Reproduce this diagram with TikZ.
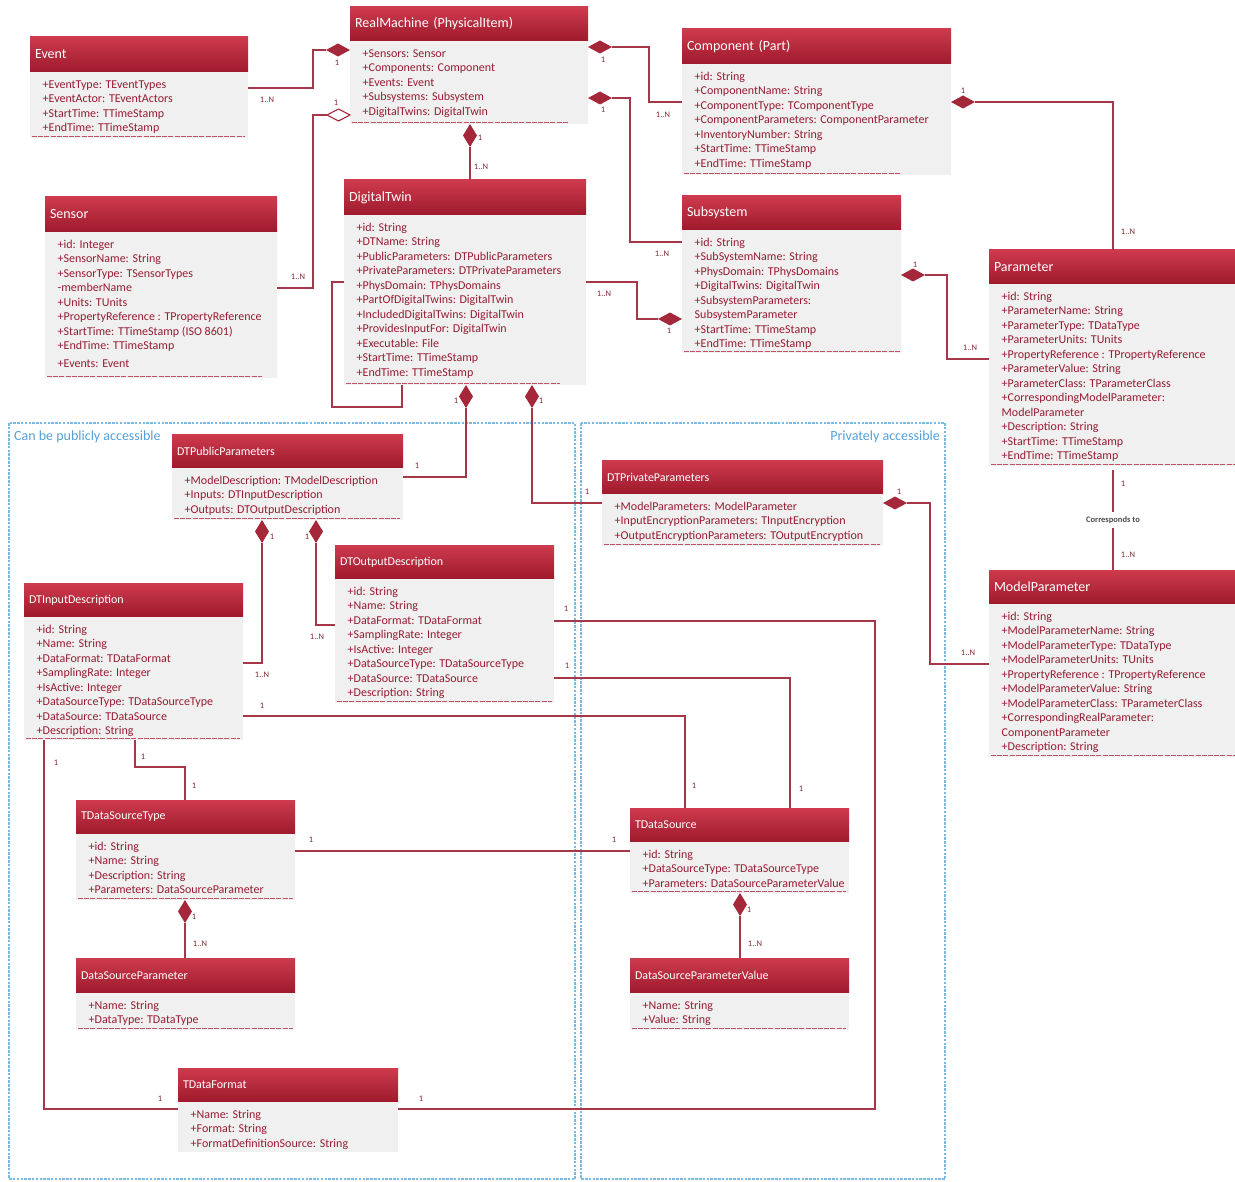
\documentclass[tikz,border=0pt]{standalone}
\usepackage{fontspec}
\setmainfont{Carlito}
\usetikzlibrary{shapes.geometric}
\definecolor{hdtop}{RGB}{206,58,78}
\definecolor{hdbot}{RGB}{158,26,44}
\definecolor{bodyc}{RGB}{240,240,240}
\definecolor{attrc}{RGB}{150,28,50}
\definecolor{linec}{RGB}{165,55,72}
\definecolor{diac}{RGB}{165,40,58}
\definecolor{multc}{RGB}{130,40,50}
\definecolor{regc}{RGB}{120,185,228}
\definecolor{regt}{RGB}{85,160,215}
\definecolor{sepc}{RGB}{195,80,100}
\tikzset{
 hdr/.style={top color=hdtop, bottom color=hdbot, draw=none, text=white, inner xsep=5pt, inner ysep=0pt, align=left, font=\fontsize{14}{16}\selectfont, outer sep=0pt},
 hdrs/.style={font=\fontsize{12}{14}\selectfont},
 hdrn/.style={},
 bodyb/.style={fill=bodyc, draw=none, inner sep=0pt, outer sep=0pt},
 attr/.style={font=\fontsize{12}{14.5}\selectfont, text=attrc, align=left, inner sep=0pt},
 sepl/.style={draw=sepc, line width=0.8pt, dash pattern=on 5pt off 1.2pt},
 conn/.style={draw=linec, line width=1.2pt},
 fdh/.style={diamond, fill=diac, draw=none, minimum width=24pt, minimum height=13pt, inner sep=0pt, outer sep=0pt},
 fdv/.style={diamond, fill=diac, draw=none, minimum width=14pt, minimum height=23pt, inner sep=0pt, outer sep=0pt},
 odh/.style={diamond, fill=white, draw=diac, line width=1.1pt, minimum width=23pt, minimum height=12pt, inner sep=0pt, outer sep=0pt},
 mult/.style={font=\fontsize{8.5}{10}\selectfont, text=multc, inner sep=0pt},
 corr/.style={font=\bfseries\fontsize{8.5}{10}\selectfont, text=black!70, fill=white, inner xsep=2pt, inner ysep=4pt},
 region/.style={draw=regc, line width=1.8pt, dash pattern=on 2.5pt off 1.3pt},
 regl/.style={font=\fontsize{14}{16}\selectfont, text=regt, inner sep=0pt},
}
% #1 name, #2 x1, #3 x2, #4 ytop, #5 yhead, #6 ybot, #7 dash end, #8 title style, #9 title
\newcommand\umlclass[9]{%
 \pgfmathsetmacro\cw{#3-#2}\pgfmathsetmacro\tw{#3-#2-10}%
 \pgfmathsetmacro\hh{#5-#4}\pgfmathsetmacro\bh{#6-#5}%
 \node[hdr,#8,anchor=north west,text width=\tw pt,minimum height=\hh pt] (#1-h) at (#2,#4) {#9};
 \node[bodyb,anchor=north west,minimum width=\cw pt,minimum height=\bh pt] (#1) at (#2,#5) {};
 \ifdim #7pt>#2pt \draw[sepl] ({#2+2},{#6-1.8}) -- (#7,{#6-1.8});\fi
}
\newcommand\attrs[2]{\node[attr,anchor=north west] (#1-a) at ([xshift=12.5pt,yshift=-6.5pt]#1.north west) {\rule{0pt}{9.5pt}#2};}
\newcommand\mlt[4]{\node[mult] (#1) at (#2,#3) {#4};}
\begin{document}
\begin{tikzpicture}[x=1pt,y=-1pt]
\useasboundingbox (0,0) rectangle (1235,1182);
% regions
\draw[region] (9,423) rectangle (575,1179);
\draw[region] (581,423) rectangle (945,1179);
\node[regl,anchor=west] (lpub) at (14,437) {Can be publicly accessible};
\node[regl,anchor=east] (lpriv) at (940,437) {Privately accessible};
% classes
\umlclass{ev}{30}{248}{37}{72}{138}{245}{hdrn}{Event}
\attrs{ev}{+EventType: TEventTypes\\+EventActor: TEventActors\\+StartTime: TTimeStamp\\+EndTime: TTimeStamp}
\umlclass{rm}{350}{588}{7}{41}{124}{568}{hdrn}{RealMachine (PhysicalItem)}
\attrs{rm}{+Sensors: Sensor\\+Components: Component\\+Events: Event\\+Subsystems: Subsystem\\+DigitalTwins: DigitalTwin}
\umlclass{comp}{682}{951}{29}{64}{175}{900}{hdrn}{Component (Part)}
\attrs{comp}{+id: String\\+ComponentName: String\\+ComponentType: TComponentType\\+ComponentParameters: ComponentParameter\\+InventoryNumber: String\\+StartTime: TTimeStamp\\+EndTime: TTimeStamp}
\umlclass{sens}{45}{277}{197}{232}{378}{262}{hdrn}{Sensor}
\attrs{sens}{+id: Integer\\+SensorName: String\\+SensorType: TSensorTypes\\-memberName\\+Units: TUnits\\+PropertyReference : TPropertyReference\\+StartTime: TTimeStamp (ISO 8601)\\+EndTime: TTimeStamp\\[3.5pt]+Events: Event}
\umlclass{dt}{344}{586}{180}{215}{385}{560}{hdrn}{DigitalTwin}
\attrs{dt}{+id: String\\+DTName: String\\+PublicParameters: DTPublicParameters\\+PrivateParameters: DTPrivateParameters\\+PhysDomain: TPhysDomains\\+PartOfDigitalTwins: DigitalTwin\\+IncludedDigitalTwins: DigitalTwin\\+ProvidesInputFor: DigitalTwin\\+Executable: File\\+StartTime: TTimeStamp\\+EndTime: TTimeStamp}
\umlclass{sub}{682}{901}{196}{230}{353}{900}{hdrn}{Subsystem}
\attrs{sub}{+id: String\\+SubSystemName: String\\+PhysDomain: TPhysDomains\\+DigitalTwins: DigitalTwin\\+SubsystemParameters:\\SubsystemParameter\\+StartTime: TTimeStamp\\+EndTime: TTimeStamp}
\umlclass{par}{989}{1235}{250}{284}{466}{1235}{hdrn}{Parameter}
\attrs{par}{+id: String\\+ParameterName: String\\+ParameterType: TDataType\\+ParameterUnits: TUnits\\+PropertyReference : TPropertyReference\\+ParameterValue: String\\+ParameterClass: TParameterClass\\+CorrespondingModelParameter:\\ModelParameter\\+Description: String\\+StartTime: TTimeStamp\\+EndTime: TTimeStamp}
\umlclass{mp}{989}{1235}{570}{604}{757}{1235}{hdrn}{ModelParameter}
\attrs{mp}{+id: String\\+ModelParameterName: String\\+ModelParameterType: TDataType\\+ModelParameterUnits: TUnits\\+PropertyReference : TPropertyReference\\+ModelParameterValue: String\\+ModelParameterClass: TParameterClass\\+CorrespondingRealParameter:\\ComponentParameter\\+Description: String}
\umlclass{pub}{172}{403}{434}{468}{520}{400}{hdrs}{DTPublicParameters}
\attrs{pub}{+ModelDescription: TModelDescription\\+Inputs: DTInputDescription\\+Outputs: DTOutputDescription}
\umlclass{priv}{602}{883}{460}{494}{546}{880}{hdrs}{DTPrivateParameters}
\attrs{priv}{+ModelParameters: ModelParameter\\+InputEncryptionParameters: TInputEncryption\\+OutputEncryptionParameters: TOutputEncryption}
\umlclass{out}{335}{554}{545}{579}{703}{552}{hdrs}{DTOutputDescription}
\attrs{out}{+id: String\\+Name: String\\+DataFormat: TDataFormat\\+SamplingRate: Integer\\+IsActive: Integer\\+DataSourceType: TDataSourceType\\+DataSource: TDataSource\\+Description: String}
\umlclass{inp}{24}{243}{583}{617}{740}{240}{hdrs}{DTInputDescription}
\attrs{inp}{+id: String\\+Name: String\\+DataFormat: TDataFormat\\+SamplingRate: Integer\\+IsActive: Integer\\+DataSourceType: TDataSourceType\\+DataSource: TDataSource\\+Description: String}
\umlclass{dst}{76}{295}{800}{834}{900}{293}{hdrs}{TDataSourceType}
\attrs{dst}{+id: String\\+Name: String\\+Description: String\\+Parameters: DataSourceParameter}
\umlclass{dsp}{76}{295}{958}{993}{1030}{293}{hdrs}{DataSourceParameter}
\attrs{dsp}{+Name: String\\+DataType: TDataType}
\umlclass{dfmt}{178}{398}{1068}{1102}{1152}{0}{hdrs}{TDataFormat}
\attrs{dfmt}{+Name: String\\+Format: String\\+FormatDefinitionSource: String}
\umlclass{ds}{630}{849}{808}{842}{893}{846}{hdrs}{TDataSource}
\attrs{ds}{+id: String\\+DataSourceType: TDataSourceType\\+Parameters: DataSourceParameterValue}
\umlclass{dspv}{630}{849}{958}{993}{1030}{846}{hdrs}{DataSourceParameterValue}
\attrs{dspv}{+Name: String\\+Value: String}
% diamonds
\node[fdh,anchor=east] (dA) at (rm.west |- 0,50) {};
\node[odh,anchor=east] (dB) at (rm.west |- 0,115) {};
\node[fdv,anchor=north] (dC) at (rm.south -| 470,0) {};
\node[fdh,anchor=west] (dD) at (rm.east |- 0,47) {};
\node[fdh,anchor=west] (dE) at (rm.east |- 0,98) {};
\node[fdh,anchor=west] (dF) at (comp.east |- 0,102) {};
\node[fdh,anchor=west] (dG) at (sub.east |- 0,275) {};
\node[fdh,anchor=east] (dH) at (sub.west |- 0,319) {};
\node[fdv,anchor=north] (dJ) at (dt.south -| 466,0) {};
\node[fdv,anchor=north] (dK) at (dt.south -| 532,0) {};
\node[fdv,anchor=north] (dL) at (pub.south -| 262,0) {};
\node[fdv,anchor=north] (dM) at (pub.south -| 316,0) {};
\node[fdh,anchor=west] (dN) at (priv.east |- 0,503) {};
\node[fdv,anchor=north] (dV) at (dst.south -| 185,0) {};
\node[fdv,anchor=north] (dW) at (ds.south -| 740,0) {};
% connectors
\draw[conn] (ev.east |- 0,88) -| (313,50) -- (dA.west);
\draw[conn] (dB.west) -| (313,288) -- (sens.east |- 0,288);
\draw[conn] (dC.south) -- (dC.south |- dt-h.north);
\draw[conn] (dD.east) -| (649,102) -- (comp.west |- 0,102);
\draw[conn] (dE.east) -| (630,242) -- (sub.west |- 0,242);
\draw[conn] (dF.east) -| (par-h.north -| 1113,0);
\draw[conn] (dG.east) -| (947,359) -- (par.west |- 0,359);
\draw[conn] (dt.east |- 0,282) -| (637,319) -- (dH.west);
\draw[conn] (dt.west |- 0,282) -| (332,407) -| (dt.south -| 402,0);
\draw[conn] (dJ.south) |- (pub.east |- 0,477);
\draw[conn] (dK.south) |- (priv.west |- 0,503);
\draw[conn] (dL.south) |- (inp.east |- 0,663);
\draw[conn] (dM.south) |- (out.west |- 0,625);
\draw[conn] (dN.east) -| (930,664) -- (mp.west |- 0,664);
\draw[conn] ([yshift=-4pt]par.south -| 1113,0) -- (mp-h.north -| 1113,0) node[corr,pos=0.5] (cto) {Corresponds to};
\draw[conn] (inp.east |- 0,716) -| (ds-h.north -| 685,0);
\draw[conn] (out.east |- 0,678) -| (ds-h.north -| 790,0);
\draw[conn] (out.east |- 0,621) -| (875,1109) -- (dfmt.east |- 0,1109);
\draw[conn] (inp.south -| 44,0) |- (dfmt.west |- 0,1109);
\draw[conn] (inp.south -| 135,0) |- (185,767) -- (dst-h.north -| 185,0);
\draw[conn] (dst.east |- 0,851) -- (ds.west |- 0,851);
\draw[conn] (dV.south) -- (dsp-h.north -| 185,0);
\draw[conn] (dW.south) -- (dspv-h.north -| 740,0);
% multiplicities
\mlt{mA1}{337}{63}{1}\mlt{mA2}{267}{100}{1..N}
\mlt{mB1}{336}{103}{1}\mlt{mB2}{298}{277}{1..N}
\mlt{mC1}{480}{138}{1}\mlt{mC2}{481}{167}{1..N}
\mlt{mD1}{603}{60}{1}\mlt{mD2}{663}{115}{1..N}
\mlt{mE1}{603}{110}{1}\mlt{mE2}{662}{254}{1..N}
\mlt{mF1}{963}{91}{1}\mlt{mF2}{1128}{232}{1..N}
\mlt{mG1}{915}{265}{1}\mlt{mG2}{970}{348}{1..N}
\mlt{mH1}{604}{294}{1..N}\mlt{mH2}{669}{331}{1}
\mlt{mJ1}{456}{401}{1}\mlt{mJ2}{417}{466}{1}
\mlt{mK1}{541}{401}{1}\mlt{mK2}{587}{492}{1}
\mlt{mL1}{272}{537}{1}\mlt{mL2}{262}{675}{1..N}
\mlt{mM1}{307}{537}{1}\mlt{mM2}{317}{637}{1..N}
\mlt{mN1}{899}{492}{1}\mlt{mN2}{968}{653}{1..N}
\mlt{mO1}{1123}{484}{1}\mlt{mO2}{1128}{555}{1..N}
\mlt{mP1}{262}{706}{1}\mlt{mP2}{694}{786}{1}
\mlt{mQ1}{567}{666}{1}\mlt{mQ2}{801}{789}{1}
\mlt{mR1}{566}{609}{1}\mlt{mR2}{421}{1099}{1}
\mlt{mS1}{56}{763}{1}\mlt{mS2}{160}{1099}{1}
\mlt{mT1}{143}{757}{1}\mlt{mT2}{194}{786}{1}
\mlt{mU1}{311}{840}{1}\mlt{mU2}{614}{840}{1}
\mlt{mV1}{194}{917}{1}\mlt{mV2}{200}{944}{1..N}
\mlt{mW1}{749}{910}{1}\mlt{mW2}{755}{944}{1..N}
\end{tikzpicture}
\end{document}
